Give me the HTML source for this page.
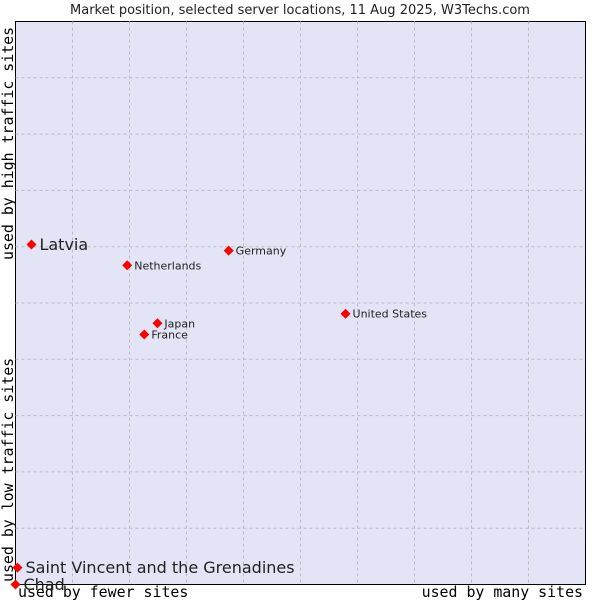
<!DOCTYPE html>
<html><head><meta charset="utf-8"><style>
body{margin:0;background:#fff;width:600px;height:600px;overflow:hidden}
svg text{font-family:"DejaVu Sans","Liberation Sans",sans-serif;fill:#222}
.mono{font-family:"DejaVu Sans Mono","Liberation Mono",monospace;font-size:14.9px;fill:#000}
</style></head><body>
<svg id="chart" width="600" height="600">
<text x="300" y="14" text-anchor="middle" font-size="13">Market position, selected server locations, 11 Aug 2025, W3Techs.com</text>
<rect x="15.5" y="21.5" width="570" height="563" fill="#e3e5f7" stroke="#000"/>
<g id="grid"></g>
<text class="mono" x="18" y="597">used by fewer sites</text>
<text class="mono" x="583" y="597" text-anchor="end">used by many sites</text>
<text class="mono" transform="translate(13,582) rotate(-90)">used by low traffic sites</text>
<text class="mono" transform="translate(13,260) rotate(-90)">used by high traffic sites</text>
<g id="points"></g>
</svg>
<script>
const countries=["Latvia","Netherlands","Germany","United States","Japan","France","Saint Vincent and the Grenadines","Chad"];
const xVals=[2.8,19.6,37.4,57.9,24.9,22.6,0.35,0];
const yVals=[60.4,56.7,59.3,48.1,46.4,44.4,3.0,0];
const bigLabel=[true,false,false,false,false,false,true,true];
const L=15.5,T=21.5,W=570,H=563;
const sx=v=>L+v/100*W, sy=v=>T+H-v/100*H;
const NS="http://www.w3.org/2000/svg";
const grid=document.getElementById('grid');
for(let i=1;i<10;i++){
 let l=document.createElementNS(NS,'line');
 
 
 l.setAttribute('x1',sx(i*10));l.setAttribute('x2',sx(i*10));l.setAttribute('y1',T);l.setAttribute('y2',T+H);
 l.setAttribute('stroke','#bbb');l.setAttribute('stroke-dasharray','3,3');grid.appendChild(l);
 let h=document.createElementNS(NS,'line');
 
 
 h.setAttribute('y1',sy(i*10));h.setAttribute('y2',sy(i*10));h.setAttribute('x1',L);h.setAttribute('x2',L+W);
 h.setAttribute('stroke','#bbb');h.setAttribute('stroke-dasharray','3,3');grid.appendChild(h);
}
const pts=document.getElementById('points');
countries.forEach((c,i)=>{
 const x=sx(xVals[i]),y=sy(yVals[i]);
 let p=document.createElementNS(NS,'path');
 
 
 p.setAttribute('d',`M${x},${y-5}L${x+5},${y}L${x},${y+5}L${x-5},${y}Z`);
 p.setAttribute('fill','#f00');pts.appendChild(p);
 let t=document.createElementNS(NS,'text');
 
 
 const big=bigLabel[i];
 t.setAttribute('x',x+(big?8:7));t.setAttribute('y',y+(big?5.5:4));
 t.setAttribute('font-size',big?16:11);
 t.textContent=c;pts.appendChild(t);
});
</script>
</body></html>
